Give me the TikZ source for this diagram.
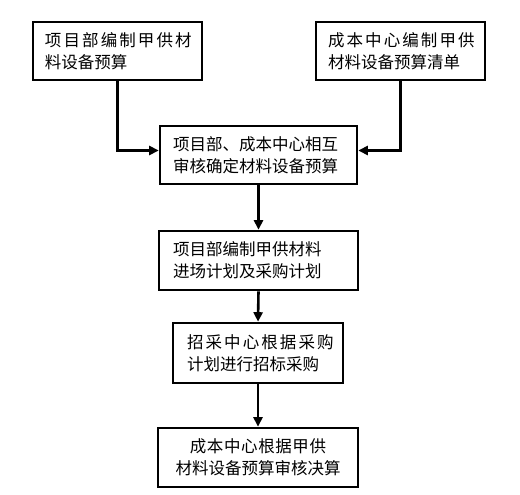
\documentclass[tikz,border=0pt]{standalone}
\usepackage{fontspec}
\newfontfamily\cjk{Noto Sans CJK SC}
\usetikzlibrary{arrows.meta}
\makeatletter
\newcommand\spreadtxt[2]{\mbox{\def\sp@first{1}\@tfor\sp@c:=#2\do{\ifx\sp@first\empty\hskip#1\fi\def\sp@first{}\sp@c}}}
\makeatother
\begin{document}
\begin{tikzpicture}[x=1pt,y=-1pt,
  stepbox/.style={draw=black,line width=2.6pt,fill=white,inner ysep=0pt,
    font=\cjk\fontsize{16.5}{22}\selectfont,align=left},
  conn/.style={line width=2.6pt,-{Triangle[length=9.5pt,width=9pt]}}]
\useasboundingbox[fill=white] (0,0) rectangle (520,495);
\node[stepbox,minimum width=169pt,minimum height=58pt,inner xsep=12pt,text width=145pt] (b1) at (117.5,51)
  {\spreadtxt{2.1pt}{项目部编制甲供材}\\料设备预算};
\node[stepbox,minimum width=169pt,minimum height=58pt,inner xsep=12pt,text width=145pt] (b2) at (400.5,51)
  {\spreadtxt{2.1pt}{成本中心编制甲供}\\材料设备预算清单};
\node[stepbox,minimum width=197pt,minimum height=58pt,inner xsep=13pt,text width=171pt] (b3) at (258.5,155)
  {\mbox{项目部、成本中心相互}\\\mbox{审核确定材料设备预算}};
\node[stepbox,minimum width=199pt,minimum height=59pt,inner xsep=14pt,text width=171pt] (b4) at (258.5,260.5)
  {\mbox{项目部编制甲供材料}\\\mbox{进场计划及采购计划}};
\node[stepbox,minimum width=170pt,minimum height=60pt,inner xsep=14pt,text width=142pt] (b5) at (258,353)
  {\spreadtxt{2.1pt}{招采中心根据采购}\\\mbox{计划进行招标采购}};
\node[stepbox,minimum width=200pt,minimum height=59pt,inner xsep=10pt,text width=180pt,align=center] (b6) at (258,457.5)
  {\spreadtxt{0.6pt}{成本中心根据甲供}\\\mbox{材料设备预算审核决算}};
\draw[conn] (b1.south) |- ([yshift=4.5pt]b3.west);
\draw[conn] (b2.south) |- ([yshift=4.5pt]b3.east);
\draw[conn] (b3.south) -- (b4.north);
\draw[conn] (b4.south) -- (b5.north);
\draw[conn] (b5.south) -- (b6.north);
\end{tikzpicture}
\end{document}
